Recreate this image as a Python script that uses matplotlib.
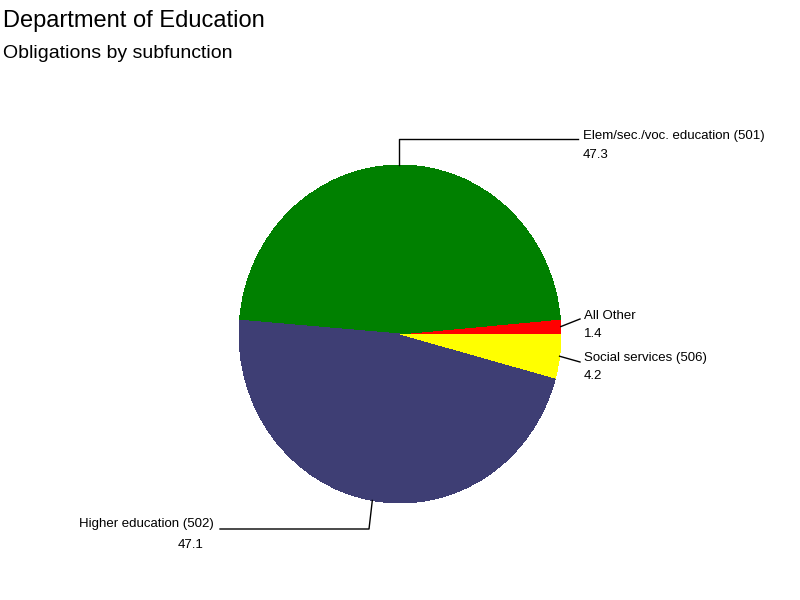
import numpy as np
import matplotlib.pyplot as plt

plt.rcParams['font.family'] = ['Liberation Sans', 'DejaVu Sans']

# slices in drawing order (counter-clockwise from 3 o'clock)
labels = ['All Other', 'Elem/sec./voc. education (501)',
          'Higher education (502)', 'Social services (506)']
values = [1.4, 47.3, 47.1, 4.2]
colors = ['#ff0000', '#008000', '#3e3e74', '#ffff00']

# pie geometry in pixels (slightly taller than wide, like the original device)
cx, cy = 400, 334
rx, ry = 161, 169

fig = plt.figure(figsize=(8, 6), dpi=100)
ax = fig.add_axes([0, 0, 1, 1])
wedges, _ = ax.pie(values, colors=colors, startangle=0, counterclock=True,
                   radius=1, center=(0, 0),
                   wedgeprops=dict(linewidth=0, antialiased=False))
ax.set_aspect('auto')
ax.set_xlim(-cx / rx, (800 - cx) / rx)
ax.set_ylim((cy - 600) / ry, cy / ry)
ax.axis('off')

# overlay in pixel coords for leader lines and text
ov = fig.add_axes([0, 0, 1, 1])
ov.set_xlim(0, 800)
ov.set_ylim(600, 0)
ov.axis('off')
ov.patch.set_alpha(0)


def edge_point(w):
    a = np.deg2rad((w.theta1 + w.theta2) / 2)
    return cx + rx * np.cos(a), cy - ry * np.sin(a)


fs = 9.5
lk = dict(color='black', lw=1)
for w, lab, v in zip(wedges, labels, values):
    x0, y0 = edge_point(w)
    if lab.startswith('Elem'):
        ov.plot([x0, x0, 578], [y0, 139, 139], **lk)
        ov.text(583, 136, lab, fontsize=fs, va='center', ha='left')
        ov.text(583, 155, f'{v}', fontsize=fs, va='center', ha='left')
    elif lab.startswith('Higher'):
        ov.plot([x0, 369, 220], [y0, 529, 529], **lk)
        ov.text(214, 524, lab, fontsize=fs, va='center', ha='right')
        ov.text(204, 545, f'{v}', fontsize=fs, va='center', ha='right')
    elif lab.startswith('All'):
        ov.plot([x0, 580], [y0, 319], **lk)
        ov.text(584, 316, lab, fontsize=fs, va='center', ha='left')
        ov.text(584, 334, f'{v}', fontsize=fs, va='center', ha='left')
    else:
        ov.plot([x0, 580], [y0, 362], **lk)
        ov.text(584, 358, lab, fontsize=fs, va='center', ha='left')
        ov.text(584, 376, f'{v}', fontsize=fs, va='center', ha='left')

fig.text(3 / 800, 1 - 21 / 600, 'Department of Education', fontsize=17,
         va='center', ha='left')
fig.text(3 / 800, 1 - 53 / 600, 'Obligations by subfunction', fontsize=14,
         va='center', ha='left')

fig.savefig('out.png', dpi=100)
